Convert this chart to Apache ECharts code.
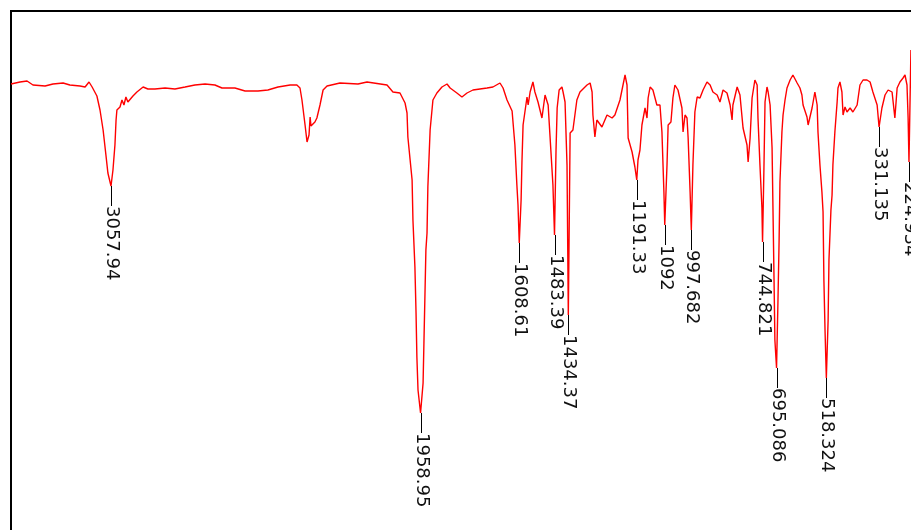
<!DOCTYPE html>
<html>
<head>
<meta charset="utf-8">
<script src="https://cdn.jsdelivr.net/npm/echarts@6/dist/echarts.min.js"></script>
<style>
html,body{margin:0;padding:0;background:#fff;overflow:hidden;}
#chart{width:911px;height:530px;}
</style>
</head>
<body>
<div id="chart"></div>
<script>
// Wavenumbers (cm-1) and transmittance (arbitrary %T units)
const wavenumbers = [
3413,3381,3356,3335,3292,3264,3228,3204,3168,3150,3136,3125,3108,3097,3086,3076,3069,3057.94,3054,3051,
3044,3040,3037,3026,3019,3012,3005,2998,2991,2980,2966,2944,2927,2902,2866,2831,2795,2760,2724,2689,
2664,2618,2582,2536,2501,2465,2422,2398,2387,2380,2369,2362,2355,2351,2348,2341,2334,2327,2316,2305,
2291,2245,2181,2149,2078,2057,2032,2014,2007,2004,1996,1989,1986,1979,1975,1972,1968,1958.95,1950,1947,
1943,1940,1936,1933,1925,1915,1901,1883,1865,1854,1830,1812,1794,1773,1748,1723,1702,1677,1666,1652,
1634,1624,1617,1613,1608.61,1602,1599,1595,1581,1577,1570,1560,1553,1542,1528,1517,1506,1496,1489,1483.39,
1478,1474,1467,1457,1453,1446,1439,1434.37,1431,1428,1418,1404,1393,1368,1357,1350,1347,1340,1333,1315,
1297,1279,1269,1251,1233,1226,1222,1208,1198,1191.33,1187,1180,1173,1162,1155,1151,1144,1134,1120,1109,
1102,1095,1092,1084,1080,1070,1063,1056,1045,1031,1027,1020,1013,1009,1002,997.682,992,985,977,967,
956,942,931,921,906,896,885,871,860,853,850,835,825,814,800,796,789,782,772,764,
761,754,747,744.821,740,736,729,725,718,711,708,704,701,695.086,690,686,683,676,672,665,
658,647,637,622,612,605,601,587,583,569,559,551,548,541,534,530,527,523,518.324,512,
509,502,498,495,488,480,477,470,463,459,452,445,434,424,409,399,388,374,363,353,
338,331.135,321,310,299,285,275,267,257,246,239,232,228,224.934,218
];
const transmittance = [
95.4,95.8,96.0,95.2,95.0,95.4,95.6,95.2,95.0,94.8,95.8,94.8,93.0,90.2,86.2,81.2,77.6,75.0,75.4,78.2,
83.2,88.2,90.2,90.8,92.2,91.2,92.8,91.8,92.2,93.0,93.8,94.8,94.4,94.4,94.6,94.4,94.8,95.2,95.4,95.2,
94.6,94.6,94.0,94.0,94.2,94.8,95.2,95.2,94.6,92.2,87.2,83.8,85.2,88.8,87.0,87.2,87.8,88.6,91.2,94.2,
95.0,95.6,95.4,95.8,95.2,93.8,93.6,91.6,89.6,84.8,80.2,76.2,68.2,58.8,49.6,40.8,34.2,29.6,35.6,43.6,
54.2,62.2,65.6,74.8,86.2,92.2,93.6,94.8,95.4,94.6,93.6,92.8,93.6,94.2,94.4,94.6,94.8,95.6,94.6,92.2,
90.0,83.2,75.2,71.2,63.6,72.2,79.8,87.2,92.8,91.2,93.8,95.8,93.8,91.8,88.6,93.2,91.2,81.8,75.2,65.2,
82.2,90.6,94.2,94.8,93.8,91.8,79.2,49.2,68.2,85.6,86.2,92.2,93.8,95.2,95.6,93.8,89.2,84.8,88.2,86.8,
89.2,88.6,89.2,92.2,97.2,95.2,84.6,81.8,78.8,76.2,80.2,82.2,87.2,90.6,88.6,92.6,94.8,94.2,91.2,91.2,
85.8,73.8,67.2,79.2,87.2,87.8,92.6,95.2,94.2,90.6,85.8,89.2,88.6,84.6,73.8,66.2,79.2,89.8,92.8,92.6,
94.2,95.8,95.2,93.8,93.2,91.8,94.2,93.6,91.2,88.2,91.2,94.8,93.2,86.6,83.2,79.8,84.6,92.6,96.2,95.2,
88.6,79.2,70.6,63.8,78.2,91.8,94.8,93.8,91.2,82.6,71.2,56.2,44.2,38.6,52.2,64.2,75.8,85.8,89.2,92.2,
94.6,96.2,97.2,95.6,94.6,93.2,91.2,88.8,87.2,90.6,93.8,91.2,85.8,79.2,73.8,69.8,56.2,46.2,36.6,48.2,
60.2,70.2,73.2,79.2,85.8,91.8,94.6,95.8,93.8,89.2,90.8,89.8,90.6,89.8,91.2,95.2,96.2,96.2,95.8,93.8,
91.2,86.8,90.6,93.2,94.2,93.8,88.6,94.6,95.8,96.6,97.2,95.2,88.6,79.8,102.2
];
// Labelled peaks
const peakWavenumbers = [3057.94,1958.95,1608.61,1483.39,1434.37,1191.33,1092,997.682,744.821,695.086,518.324,331.135,224.934];
const peakLabels = ["3057.94","1958.95","1608.61","1483.39","1434.37","1191.33","1092","997.682","744.821","695.086","518.324","331.135","224.934"];

const spectrum = wavenumbers.map((w, i) => [w, transmittance[i]]);
const peakData = peakWavenumbers.map(w => {
  const i = wavenumbers.indexOf(w);
  return [w, transmittance[i]];
});

const chart = echarts.init(document.getElementById('chart'), null, {renderer: 'canvas'});
chart.setOption({
  animation: false,
  backgroundColor: '#ffffff',
  grid: {
    show: true, left: 11, top: 11, width: 905, height: 550,
    outerBoundsMode: 'none', containLabel: false,
    borderColor: '#000000', borderWidth: 2, backgroundColor: 'transparent'
  },
  xAxis: {type: 'value', inverse: true, min: 200, max: 3413, show: false},
  yAxis: {type: 'value', min: 0, max: 110, show: false},
  series: [
    {
      type: 'line',
      data: spectrum,
      showSymbol: false,
      symbol: 'none',
      lineStyle: {color: '#ff0000', width: 1.4},
      clip: false,
      z: 2
    },
    {
      type: 'custom',
      data: peakData,
      clip: false,
      z: 3,
      renderItem: function (params, api) {
        const p = api.coord([api.value(0), api.value(1)]);
        const x = Math.round(p[0]) + 0.5;
        return {
          type: 'group',
          children: [
            {
              type: 'line',
              shape: {x1: x, y1: p[1], x2: x, y2: p[1] + 20},
              style: {stroke: '#000000', lineWidth: 1}
            },
            {
              type: 'text',
              x: x,
              y: p[1] + 20,
              rotation: -Math.PI / 2,
              style: {
                text: peakLabels[params.dataIndex],
                font: '18px "DejaVu Sans"',
                fill: '#111111',
                align: 'left',
                verticalAlign: 'middle'
              }
            }
          ]
        };
      }
    }
  ]
});
</script>
</body>
</html>
